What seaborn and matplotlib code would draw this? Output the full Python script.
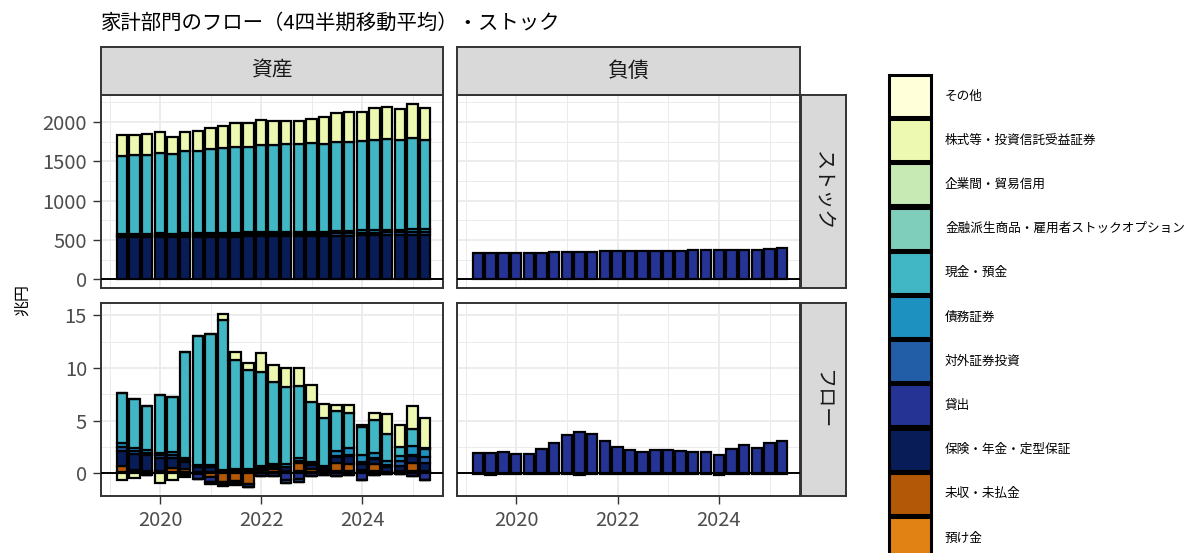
import numpy as np
import pandas as pd
import matplotlib
matplotlib.use("Agg")
import matplotlib.pyplot as plt
import matplotlib.dates as mdates
from matplotlib.patches import Rectangle
import seaborn as sns

# ---- data -------------------------------------------------------------
quarters = pd.period_range("2019Q1", "2025Q1", freq="Q")

categories = ["その他", "株式等・投資信託受益証券", "企業間・貿易信用",
              "金融派生商品・雇用者ストックオプション", "現金・預金", "債務証券",
              "対外証券投資", "貸出", "保険・年金・定型保証", "未収・未払金", "預け金"]
palette = ["#FFFFD9", "#EDF8B1", "#C7E9B4", "#7FCDBB", "#41B6C4", "#1D91C0",
           "#225EA8", "#253494", "#081D58", "#B35806", "#E08214"]

# stock, assets (兆円)
stock_asset_insurance = [535, 537, 538, 540, 536, 540, 541, 543, 544, 546, 547, 549, 548,
                         548, 549, 551, 552, 556, 558, 560, 562, 565, 564, 568, 570]
stock_asset_debt = [26, 26, 26, 26, 26, 26, 26, 26, 26, 26, 26, 27, 27,
                    27, 28, 28, 29, 30, 31, 32, 33, 34, 35, 36, 37]
stock_asset_foreign = [20, 20, 20, 21, 19, 20, 21, 22, 23, 24, 25, 26, 26,
                       26, 27, 28, 28, 30, 31, 32, 33, 34, 34, 36, 35]
stock_asset_cash = [985, 996, 995, 1022, 1007, 1043, 1050, 1068, 1075, 1084, 1082, 1103, 1104,
                    1122, 1119, 1128, 1114, 1132, 1128, 1141, 1141, 1148, 1136, 1154, 1127]
stock_asset_equity = [271, 258, 271, 270, 219, 241, 249, 262, 287, 304, 313, 322, 309,
                      291, 291, 300, 337, 363, 375, 367, 405, 415, 397, 431, 414]

# stock, liabilities (兆円)
stock_liab_loans = [338, 336, 338, 342, 342, 342, 347, 355, 355, 355, 359, 368, 368,
                    368, 368, 368, 368, 372, 376, 376, 376, 380, 380, 389, 397]

# flow (4-quarter moving average), assets (兆円)
flow_asset_cash = [4.70, 4.69, 4.12, 5.46, 5.25, 10.06, 12.28, 12.43, 14.18, 10.34, 9.44, 8.96, 7.75,
                   7.31, 6.84, 5.72, 4.53, 3.74, 3.31, 2.72, 3.18, 2.50, 0.91, 1.69, 0.10]
flow_asset_equity = [-0.60, -0.47, 0.00, -0.90, -0.60, -0.15, 0.00, 0.00, 0.63, 0.78, 0.68, 1.75, 1.62,
                     1.78, 1.66, 1.65, 1.34, 0.57, 0.81, 0.12, 0.60, 1.93, 2.06, 2.12, 2.85]
flow_asset_debt = [0.40, 0.28, 0.30, 0.25, 0.28, 0.20, 0.15, -0.15, -0.20, -0.15, 0.10, 0.10, 0.15,
                   0.35, 0.30, 0.15, 0.15, 0.50, 0.63, 0.66, 0.47, 0.44, 0.50, 0.81, 0.80]
flow_asset_foreign = [0.40, 0.25, 0.26, 0.22, 0.25, 0.18, 0.10, 0.15, 0.10, 0.10, 0.06, 0.10, 0.15,
                      -0.30, -0.30, 0.10, 0.10, 0.13, 0.10, 0.20, 0.07, 0.15, 0.43, 0.13, 0.56]
flow_asset_loans = [0.00, 0.00, -0.20, 0.00, 0.00, -0.20, -0.45, -0.45, -0.25, -0.20, -0.30, -0.30, -0.25,
                    -0.60, -0.55, -0.30, -0.15, -0.25, -0.20, -0.60, -0.20, -0.10, -0.10, -0.25, -0.60]
flow_asset_insurance = [1.45, 1.56, 1.44, 1.22, 0.97, 0.62, 0.45, 0.50, 0.14, 0.20, 0.10, 0.20, 0.20,
                        0.30, 0.15, 0.35, 0.20, 0.50, 0.75, 0.56, 0.47, 0.45, 0.49, 0.62, 0.74]
flow_asset_payable = [0.55, 0.20, 0.15, 0.15, 0.40, 0.30, -0.10, -0.40, -0.80, -0.75, -1.00, 0.20, 0.30,
                      0.15, 0.80, 0.35, 0.15, 0.81, 0.72, 0.20, 0.70, 0.10, 0.10, 0.80, 0.10]
flow_asset_deposit = [0.10, 0.10, 0.10, 0.10, 0.10, 0.14, 0.10, 0.10, 0.10, 0.10, 0.10, 0.10, 0.10,
                      0.10, 0.20, 0.10, 0.09, 0.20, 0.20, 0.10, 0.20, 0.05, 0.10, 0.20, 0.10]

# flow (4-quarter moving average), liabilities (兆円)
flow_liab_loans = [1.93, 1.90, 2.06, 1.87, 1.87, 2.31, 2.87, 3.62, 3.93, 3.74, 3.06, 2.49, 2.24,
                   1.99, 2.24, 2.24, 2.12, 2.06, 2.06, 1.74, 2.31, 2.68, 2.37, 2.87, 3.02]
flow_liab_payable = [-0.10, -0.12, -0.10, -0.10, -0.10, -0.10, -0.10, -0.10, -0.12, -0.10, -0.10, -0.10, -0.10,
                     -0.10, -0.10, -0.10, -0.10, -0.10, -0.10, -0.12, -0.10, -0.10, -0.10, -0.10, -0.10]

panels = {
    ("ストック", "資産"): {"現金・預金": stock_asset_cash, "株式等・投資信託受益証券": stock_asset_equity,
                          "債務証券": stock_asset_debt, "対外証券投資": stock_asset_foreign,
                          "保険・年金・定型保証": stock_asset_insurance},
    ("ストック", "負債"): {"貸出": stock_liab_loans},
    ("フロー", "資産"): {"現金・預金": flow_asset_cash, "株式等・投資信託受益証券": flow_asset_equity,
                        "債務証券": flow_asset_debt, "対外証券投資": flow_asset_foreign,
                        "貸出": flow_asset_loans, "保険・年金・定型保証": flow_asset_insurance,
                        "未収・未払金": flow_asset_payable, "預け金": flow_asset_deposit},
    ("フロー", "負債"): {"貸出": flow_liab_loans, "未収・未払金": flow_liab_payable},
}

# ---- style ------------------------------------------------------------
sns.set_theme(style="white")
plt.rcParams["font.family"] = ["Noto Sans CJK JP", "DejaVu Sans"]

W, H = 1191, 553
fig = plt.figure(figsize=(W / 100, H / 100), dpi=100)


def box(x0, y0, x1, y1):
    return [x0 / W, 1 - y1 / H, (x1 - x0) / W, (y1 - y0) / H]


xdates = quarters.end_time.normalize()
xnum = mdates.date2num(xdates)
bar_w = 75
xlim = mdates.date2num(pd.to_datetime(["2018-10-30", "2025-08-08"]))
color_of = dict(zip(categories, palette))

cols = {"資産": (101, 443), "負債": (457, 800)}
rows = {"ストック": (95, 288), "フロー": (303, 496)}
ylims = {"ストック": (-108, 2343), "フロー": (-2.16, 16.17)}
yticks = {"ストック": [0, 500, 1000, 1500, 2000], "フロー": [0, 5, 10, 15]}
yminor = {"ストック": [250, 750, 1250, 1750, 2250], "フロー": [2.5, 7.5, 12.5]}

grey = "#333333"
for (row, col), comps in panels.items():
    x0, x1 = cols[col]
    y0, y1 = rows[row]
    ax = fig.add_axes(box(x0, y0, x1, y1))
    ax.set_facecolor("white")
    pos_base = np.zeros(len(xnum))
    neg_base = np.zeros(len(xnum))
    # stack in reverse level order so the first level ends on top
    for cat in reversed(categories):
        if cat not in comps:
            continue
        v = np.asarray(comps[cat], dtype=float)
        pos = np.where(v > 0, v, 0.0)
        neg = np.where(v < 0, v, 0.0)
        if pos.any():
            ax.bar(xnum, pos, width=bar_w, bottom=pos_base, color=color_of[cat],
                   edgecolor="black", linewidth=1.6, zorder=3)
            pos_base += pos
        if neg.any():
            ax.bar(xnum, neg, width=bar_w, bottom=neg_base, color=color_of[cat],
                   edgecolor="black", linewidth=1.6, zorder=3)
            neg_base += neg
    ax.axhline(0, color="black", linewidth=1.4, zorder=4)
    ax.set_xlim(*xlim)
    ax.set_ylim(*ylims[row])
    ax.xaxis.set_major_locator(mdates.YearLocator(2))
    ax.xaxis.set_minor_locator(mdates.YearLocator(1, month=1))
    ax.xaxis.set_major_formatter(mdates.DateFormatter("%Y"))
    ax.set_yticks(yticks[row])
    ax.set_yticks(yminor[row], minor=True)
    ax.grid(True, which="major", color="#EBEBEB", linewidth=1.3, zorder=0)
    ax.grid(True, which="minor", color="#EBEBEB", linewidth=0.7, zorder=0)
    ax.set_axisbelow(True)
    for s in ax.spines.values():
        s.set_color(grey)
        s.set_linewidth(1.4)
    ax.tick_params(which="minor", length=0)
    ax.tick_params(which="major", length=6, width=1.0, color=grey,
                   labelcolor="#4D4D4D", labelsize=14.5, pad=4)
    ax.tick_params(axis="y", left=(col == "資産"), labelleft=(col == "資産"))
    ax.tick_params(axis="x", bottom=(row == "フロー"), labelbottom=(row == "フロー"))
    ax.set_xlabel("")
    ax.set_ylabel("")

# facet strips
strip_fc = "#D9D9D9"
for col, (x0, x1) in cols.items():
    sa = fig.add_axes(box(x0, 47, x1, 95))
    sa.set_facecolor(strip_fc)
    sa.set_xticks([]); sa.set_yticks([])
    for s in sa.spines.values():
        s.set_color(grey); s.set_linewidth(1.4)
    sa.text(0.5, 0.5, col, ha="center", va="center", fontsize=15,
            color="#1A1A1A", transform=sa.transAxes)
for row, (y0, y1) in rows.items():
    sa = fig.add_axes(box(801, y0, 846, y1))
    sa.set_facecolor(strip_fc)
    sa.set_xticks([]); sa.set_yticks([])
    for s in sa.spines.values():
        s.set_color(grey); s.set_linewidth(1.4)
    sa.text(0.5, 0.5, row, ha="center", va="center", fontsize=14.5, rotation=-90,
            color="#1A1A1A", transform=sa.transAxes)

fig.text(101 / W, 1 - 23 / H, "家計部門のフロー（4四半期移動平均）・ストック",
         ha="left", va="center", fontsize=14.7, color="black")
fig.text(22 / W, 1 - 300 / H, "兆円", ha="center", va="center", rotation=90,
         fontsize=11.5, color="black")

# legend: one keyed square per category, running off the bottom edge
key_x0, key_x1 = 889, 931
key_top, key_step, key_h = 75, 44.2, 42
for i, (cat, c) in enumerate(zip(categories, palette)):
    top = key_top + i * key_step
    fig.add_artist(Rectangle((key_x0 / W, 1 - (top + key_h) / H),
                             (key_x1 - key_x0) / W, key_h / H,
                             facecolor=c, edgecolor="black", linewidth=2.2,
                             transform=fig.transFigure))
    fig.text(945 / W, 1 - (top + key_h / 2) / H, cat, ha="left", va="center",
             fontsize=9.1, color="black")

fig.savefig("out.png", dpi=100)
